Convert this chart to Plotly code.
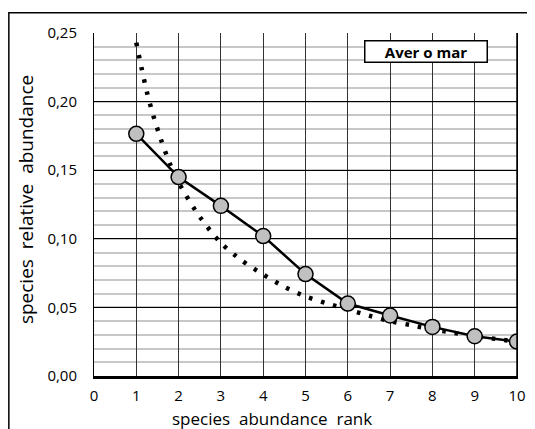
import plotly.graph_objects as go

# Observed data (solid line with markers)
rank = [1, 2, 3, 4, 5, 6, 7, 8, 9, 10]
observed = [0.1765, 0.145, 0.124, 0.102, 0.0743, 0.0528, 0.0441, 0.0358, 0.029, 0.0251]

# Fitted model curve (dotted)
fit_x = [1.0, 1.12, 1.25, 1.4, 1.58, 1.79, 2.0, 2.5, 3.0, 3.5, 4.0, 4.5, 5.0, 5.5, 6.0, 6.5, 7.0, 7.5, 8.0, 8.5, 9.0, 9.5, 10.0]
fit_y = [0.243, 0.225, 0.207, 0.19, 0.1726, 0.155, 0.141, 0.116, 0.097, 0.084, 0.074, 0.065, 0.058, 0.053, 0.0485, 0.044, 0.040, 0.037, 0.034, 0.0315, 0.029, 0.027, 0.025]

x_ticks = list(range(0, 11))
y_ticks = [0.0, 0.05, 0.10, 0.15, 0.20, 0.25]
label = "Aver o mar"
x_title = "species  abundance  rank"
y_title = "species  relative  abundance"

FONT = "Open Sans"

fig = go.Figure()
fig.add_trace(go.Scatter(
    x=fit_x, y=fit_y, mode="lines",
    line=dict(color="black", width=4.5, dash="3.5px,9px", shape="spline", smoothing=0.8),
    hoverinfo="skip", showlegend=False))
fig.add_trace(go.Scatter(
    x=rank, y=observed, mode="lines+markers",
    line=dict(color="black", width=2.5),
    marker=dict(size=15, color="#c0c0c0", line=dict(color="black", width=1.5)),
    showlegend=False))

fig.add_annotation(
    x=7.85, y=0.2363, xref="x", yref="y", text="<b>" + label + "</b>",
    showarrow=False, font=dict(family=FONT, size=15, color="black"),
    bgcolor="white", bordercolor="black", borderwidth=1.5, borderpad=0, width=121)

fig.add_annotation(
    x=0.4202, y=-0.1235, xref="paper", yref="paper", text=x_title,
    showarrow=False, xanchor="center", yanchor="middle",
    font=dict(family=FONT, size=17, color="black"))
fig.add_annotation(
    x=-0.159, y=0.515, xref="paper", yref="paper", text=y_title, textangle=-90,
    showarrow=False, xanchor="center", yanchor="middle",
    font=dict(family=FONT, size=19, color="black"))

# outer chart border
fig.add_shape(type="rect", xref="paper", yref="paper",
              x0=-0.2013, x1=1.2, y0=-0.4, y1=1.0593,
              line=dict(color="black", width=1.5), layer="below")

fig.update_layout(
    width=527, height=421,
    margin=dict(l=86, r=17.5, t=25, b=53, autoexpand=False),
    paper_bgcolor="white", plot_bgcolor="white",
    separators=", ",
    font=dict(family=FONT, size=15, color="black"),
    xaxis=dict(
        range=[0, 10], tickvals=x_ticks, showgrid=True, gridcolor="#333333", gridwidth=1,
        zeroline=False, showline=True, linecolor="black", linewidth=2.5, mirror=False,
        ticks="", ticklabelstandoff=4,
        tickfont=dict(size=15)),
    yaxis=dict(
        range=[0, 0.25], tickvals=y_ticks, tickformat=".2f", showgrid=True,
        gridcolor="black", gridwidth=1,
        minor=dict(dtick=0.01, showgrid=True, gridcolor="#c8c8c8", gridwidth=1.5),
        zeroline=False, showline=True, linecolor="black", linewidth=1, mirror=True,
        ticks="", ticklabelstandoff=13,
        tickfont=dict(size=15)),
)
# right border of plot area
fig.add_shape(type="line", xref="paper", yref="paper", x0=1, x1=1, y0=0, y1=1,
              line=dict(color="black", width=1.5))

fig.write_html("out.html")
